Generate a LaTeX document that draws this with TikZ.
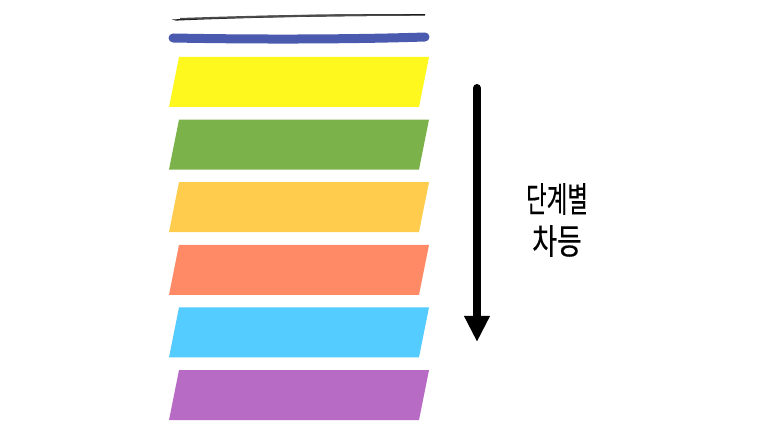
\documentclass[tikz,border=0pt]{standalone}
\usepackage{fontspec}
\newfontfamily\kr[FakeBold=0.4]{Noto Sans CJK KR}
\usetikzlibrary{arrows.meta}
\definecolor{cyellow}{HTML}{FFF81F}
\definecolor{cgreen}{HTML}{7CB24A}
\definecolor{corange}{HTML}{FFCC4D}
\definecolor{csalmon}{HTML}{FF8A65}
\definecolor{cblue}{HTML}{55CCFF}
\definecolor{cpurple}{HTML}{B86BC4}
\definecolor{cstroke}{HTML}{4A5AAE}
\tikzset{band/.style={fill=#1, draw=none}}
\begin{document}
\begin{tikzpicture}[x=1pt,y=-1pt]
\useasboundingbox (0,0) rectangle (773,435);
% black brush stroke
\fill[black!90] (172,19.5) .. controls (250,15.5) and (330,13.8) .. (425,14.2)
  -- (425,15.6) .. controls (330,16) and (250,17.5) .. (176,20.6) -- cycle;
\fill[black!70] (180,18) .. controls (280,14.5) and (360,13.8) .. (410,14.6)
  -- (410,15.8) .. controls (360,15.8) and (280,16.8) .. (180,19.5) -- cycle;
% blue marker stroke
\draw[cstroke, line width=9pt, line cap=round] (173,38) .. controls (250,39.5) and (350,39.5) .. (425,37);
% bands
\foreach \c [count=\i from 0] in {cyellow,cgreen,corange,csalmon,cblue,cpurple}{
  \pgfmathsetmacro{\t}{57+62.6*\i}
  \pgfmathsetmacro{\b}{\t+50}
  \fill[band=\c] (179,\t) -- (429,\t) -- (419,\b) -- (169,\b) -- cycle;
}
% arrow
\coordinate (atop) at (477,88);
\coordinate (abot) at (477,342);
\draw[line width=8pt, line cap=round, -{Triangle[width=24pt,length=26pt]}] (atop) -- (abot);
% label
\node[font=\kr\fontsize{35}{42}\selectfont, align=center] (lab) at (557,220)
  {\scalebox{0.64}[1]{단계별}\\\scalebox{0.77}[1]{차등}};
\end{tikzpicture}
\end{document}
